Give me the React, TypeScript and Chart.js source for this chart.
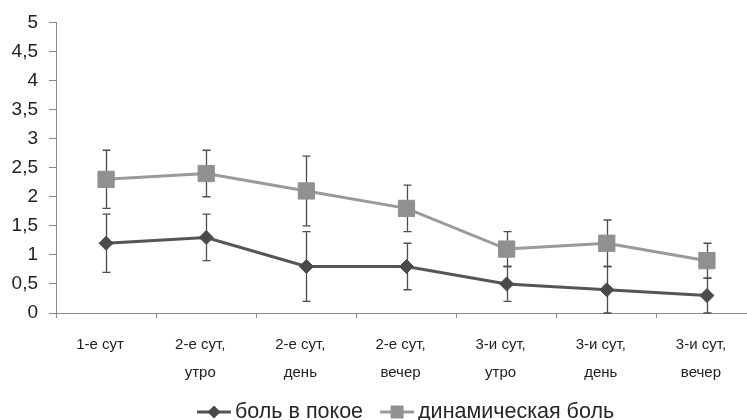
import React, { useEffect, useRef } from "react";
import { Chart, registerables } from "chart.js";

Chart.register(...registerables);

// Time points (multi-line category labels)
const categories: string[][] = [
  ["1-е сут"],
  ["2-е сут,", "утро"],
  ["2-е сут,", "день"],
  ["2-е сут,", "вечер"],
  ["3-и сут,", "утро"],
  ["3-и сут,", "день"],
  ["3-и сут,", "вечер"],
];

// Mean pain scores and their error-bar half-widths
const restPain = [1.2, 1.3, 0.8, 0.8, 0.5, 0.4, 0.3];
const restPainErr = [0.5, 0.4, 0.6, 0.4, 0.3, 0.4, 0.3];
const dynamicPain = [2.3, 2.4, 2.1, 1.8, 1.1, 1.2, 0.9];
const dynamicPainErr = [0.5, 0.4, 0.6, 0.4, 0.3, 0.4, 0.3];

const seriesNames = ["боль в покое", "динамическая боль"];

// Y axis labels for 0 … 5 in 0.5 steps
const yTickLabels = ["0", "0,5", "1", "1,5", "2", "2,5", "3", "3,5", "4", "4,5", "5"];

const FONT = "'Liberation Sans', Arial, sans-serif";
const AXIS_COLOR = "#8a8a8a";
const TEXT_COLOR = "#222222";
const ERR_COLOR = "#4d4d4d";

// The plot runs past the right edge of the visible frame, so the canvas is wider
const CANVAS_W = 777;
const CANVAS_H = 420;

const errorBarsPlugin = {
  id: "errorBars",
  beforeDatasetsDraw(chart: any) {
    const { ctx } = chart;
    const yScale = chart.scales.y;
    ctx.save();
    ctx.strokeStyle = ERR_COLOR;
    ctx.lineWidth = 1.3;
    chart.data.datasets.forEach((ds: any, di: number) => {
      const meta = chart.getDatasetMeta(di);
      const errs: number[] = ds.errors || [];
      meta.data.forEach((pt: any, i: number) => {
        const v = ds.data[i];
        const e = errs[i] ?? 0;
        const x = Math.round(pt.x) + 0.5;
        const yTop = yScale.getPixelForValue(v + e);
        const yBot = yScale.getPixelForValue(Math.max(0, v - e));
        const cap = 4;
        ctx.beginPath();
        ctx.moveTo(x, yTop);
        ctx.lineTo(x, yBot);
        ctx.moveTo(x - cap, yTop);
        ctx.lineTo(x + cap, yTop);
        ctx.moveTo(x - cap, yBot);
        ctx.lineTo(x + cap, yBot);
        ctx.stroke();
      });
    });
    ctx.restore();
  },
};

const legendPlugin = {
  id: "lineMarkerLegend",
  afterDraw(chart: any) {
    const { ctx } = chart;
    ctx.save();
    ctx.font = `21.5px ${FONT}`;
    ctx.textBaseline = "alphabetic";
    ctx.textAlign = "left";
    const yMid = 412;
    let x = 197;
    chart.data.datasets.forEach((ds: any) => {
      const lineLen = 34;
      ctx.strokeStyle = ds.borderColor;
      ctx.lineWidth = 3;
      ctx.beginPath();
      ctx.moveTo(x, yMid);
      ctx.lineTo(x + lineLen, yMid);
      ctx.stroke();
      const cx = x + lineLen / 2;
      ctx.fillStyle = ds.pointBackgroundColor;
      ctx.beginPath();
      if (ds.pointStyle === "rectRot") {
        const r = 6.5;
        ctx.moveTo(cx, yMid - r);
        ctx.lineTo(cx + r, yMid);
        ctx.lineTo(cx, yMid + r);
        ctx.lineTo(cx - r, yMid);
        ctx.closePath();
      } else {
        const s = 6.5;
        ctx.rect(cx - s, yMid - s, 2 * s, 2 * s);
      }
      ctx.fill();
      ctx.fillStyle = "#262626";
      const tx = x + lineLen + 4;
      ctx.fillText(ds.label, tx, yMid + 5.5);
      x = tx + ctx.measureText(ds.label).width + 17;
    });
    ctx.restore();
  },
};

export default function App() {
  const canvasRef = useRef<HTMLCanvasElement | null>(null);

  useEffect(() => {
    if (!canvasRef.current) return;
    const chart = new Chart(canvasRef.current, {
      type: "line",
      data: {
        labels: categories,
        datasets: [
          {
            label: seriesNames[0],
            data: restPain,
            errors: restPainErr,
            borderColor: "#555555",
            borderWidth: 3,
            pointStyle: "rectRot",
            pointRadius: 7,
            pointBackgroundColor: "#4a4a4a",
            pointBorderColor: "#4a4a4a",
            pointBorderWidth: 1,
            tension: 0,
          } as any,
          {
            label: seriesNames[1],
            data: dynamicPain,
            errors: dynamicPainErr,
            borderColor: "#9a9a9a",
            borderWidth: 3,
            pointStyle: "rect",
            pointRadius: 11.5,
            pointBackgroundColor: "#909090",
            pointBorderColor: "#909090",
            pointBorderWidth: 1,
            tension: 0,
          } as any,
        ],
      },
      options: {
        animation: false,
        responsive: false,
        devicePixelRatio: 1,
        layout: { padding: { top: 20, right: 20, bottom: 0, left: 0 } },
        plugins: {
          legend: { display: false },
          tooltip: { enabled: false },
        },
        scales: {
          x: {
            type: "category",
            offset: true,
            grid: {
              offset: true,
              drawOnChartArea: false,
              drawTicks: true,
              tickLength: 5,
              color: AXIS_COLOR,
            },
            border: { color: AXIS_COLOR, width: 1 },
            ticks: {
              color: TEXT_COLOR,
              font: { family: FONT, size: 15, lineHeight: 28 / 15 },
              padding: 13,
              labelOffset: -6,
              maxRotation: 0,
              autoSkip: false,
            },
            afterFit(scale: any) {
              scale.height = 107;
            },
          },
          y: {
            min: 0,
            max: 5,
            grid: {
              drawOnChartArea: false,
              drawTicks: true,
              tickLength: 7,
              color: AXIS_COLOR,
            },
            border: { color: AXIS_COLOR, width: 1 },
            ticks: {
              stepSize: 0.5,
              color: TEXT_COLOR,
              font: { family: FONT, size: 19 },
              padding: 11,
              callback: (_v: any, i: number) => yTickLabels[i],
            },
            afterFit(scale: any) {
              scale.width = 56;
            },
          },
        },
      } as any,
      plugins: [errorBarsPlugin, legendPlugin],
    });
    return () => chart.destroy();
  }, []);

  return (
    <div
      style={{
        position: "fixed",
        left: 0,
        top: 0,
        width: 747,
        height: 420,
        overflow: "hidden",
        background: "#ffffff",
      }}
    >
      <canvas
        ref={canvasRef}
        width={CANVAS_W}
        height={CANVAS_H}
        style={{ display: "block", width: CANVAS_W, height: CANVAS_H }}
      />
    </div>
  );
}
